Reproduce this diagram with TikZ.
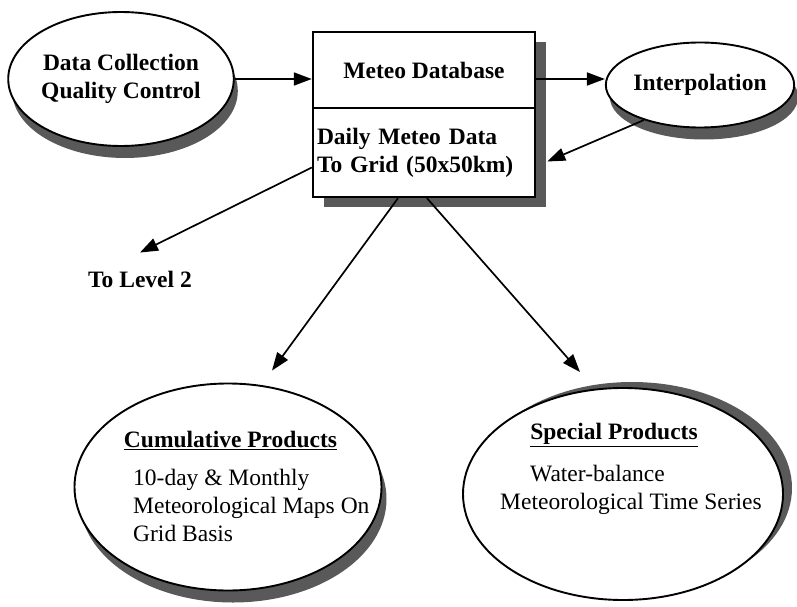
\documentclass[tikz,border=0pt]{standalone}
\usepackage{fontspec}
\setmainfont{Liberation Serif}
\usetikzlibrary{shapes.geometric,shadows,arrows.meta}

\tikzset{
  txt/.style={font=\fontsize{23.5}{28}\selectfont, inner sep=0pt},
  bold/.style={txt, font=\fontsize{23.5}{28}\selectfont\bfseries},
  oval/.style={ellipse, draw, line width=1.9pt, fill=white, inner sep=0pt},
  cell/.style={rectangle, draw, line width=2.4pt, fill=white, minimum width=222pt},
  dshade/.style 2 args={drop shadow={shadow xshift=#1, shadow yshift=#2, fill=black!65, opacity=1}},
  arr/.style={-{Triangle[length=18pt,width=13pt]}, line width=1.7pt},
}

\begin{document}
\begin{tikzpicture}[x=1pt,y=-1pt]
\useasboundingbox (0,0) rectangle (797,607);
% top row
\node[oval, bold, align=center, minimum width=222pt, minimum height=134pt, dshade={4pt}{-12pt}] (dc) at (121,79) {Data Collection\\Quality Control};
\node[cell, bold, minimum height=76pt, dshade={11pt}{-10pt}] (db) at (424,70) {Meteo Database};
\node[cell, bold, minimum height=89pt, text width=214pt, align=left, inner xsep=4pt, dshade={11pt}{-10pt}] (gr) at (424,152.5) {Daily Meteo Data\\To Grid (50x50km)};
\node[oval, bold, minimum width=186pt, minimum height=85pt, dshade={4pt}{-12pt}] (ip) at (700,85) {Interpolation};
\node[bold] (lv) at (140,279) {To Level 2};
% products
\node[oval, minimum width=307pt, minimum height=207pt, dshade={5pt}{-12pt}] (cu) at (228,487) {};
\node[oval, minimum width=320pt, minimum height=212pt, dshade={9pt}{6pt}] (sp) at (623,494) {};
\node[bold] (cuhd) at (230.5,440) {\underline{Cumulative Products}};
\node[txt, align=left, anchor=west] (cutx) at (133,505) {10-day \& Monthly\\Meteorological Maps On\\Grid Basis};
\node[bold] (sphd) at (614,435) {\underline{Special Products}};
\node[txt, align=left, anchor=west] (sptx) at (500,490) {\hspace*{30pt}Water-balance\\Meteorological Time Series};

% connectors
\draw[arr] (dc.east) -- (dc.east -| db.west);
\draw[arr] (db.east |- dc.east) -- (ip.west |- dc.east);
\draw[arr] (ip.212) -- ([shift={(11,9)}]gr.east);
\draw[arr] ([yshift=-15pt]gr.west) -- ([yshift=18pt]lv.north);
\draw[arr] ([xshift=-26pt]gr.south) -- ([shift={(44,-12)}]cu.north);
\draw[arr] ([xshift=3pt]gr.south) -- ([shift={(-43,-15)}]sp.north);
\end{tikzpicture}
\end{document}
